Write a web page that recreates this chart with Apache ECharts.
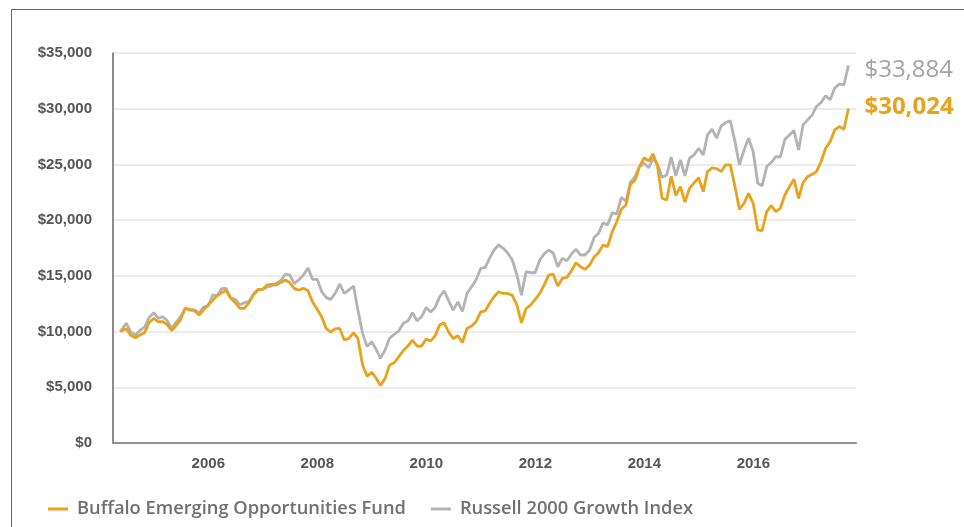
<!DOCTYPE html>
<html>
<head>
<meta charset="utf-8">
<script src="https://cdn.jsdelivr.net/npm/echarts@6/dist/echarts.min.js"></script>
<style>
  html, body { margin: 0; padding: 0; background: #fff; }
  #wrap { position: relative; width: 964px; height: 527px; overflow: hidden; }
  #frame { position: absolute; left: 11px; top: 9px; width: 2000px; height: 2000px;
           border-left: 1.5px solid #666; border-top: 1.5px solid #666; }
  #main { position: absolute; left: 0; top: 0; width: 964px; height: 527px; }
</style>
</head>
<body>
<div id="wrap">
  <div id="frame"></div>
  <div id="main"></div>
</div>
<script>
// 序列名称
const fundName = 'Buffalo Emerging Opportunities Fund';
const indexName = 'Russell 2000 Growth Index';

// 成立日 2004-05-21，之后每个月末一个点，到 2017-09-30
const inception = [2004, 5, 21];
const monthCount = 160;

// 基金 $10,000 增长（从图上读的）
const fundValues = [
  10000, 10250, 9650, 9450, 9700, 9900, 10800, 11180, 10880, 10900, 10650, 10100,
  10550, 11100, 12100, 11930, 11870, 11480, 11950, 12400, 12800, 13200, 13500, 13670,
  13000, 12600, 12080, 12080, 12600, 13300, 13730, 13790, 14200, 14230, 14180, 14400,
  14630, 14400, 13850, 13730, 13880, 13670, 12650, 12000, 11300, 10300, 9950, 10250,
  10280, 9250, 9380, 9890, 9380, 7000, 6000, 6350, 5800, 5150, 5800, 6990,
  7200, 7740, 8300, 8700, 9230, 8700, 8700, 9320, 9170, 9600, 10580, 10790,
  9950, 9380, 9620, 9020, 10280, 10490, 10880, 11770, 11860, 12520, 13120, 13570,
  13420, 13420, 13250, 12370, 10790, 12070, 12370, 12880, 13420, 14170, 15070, 15160,
  14080, 14770, 14860, 15460, 16180, 15820, 15580, 15970, 16720, 17080, 17770, 17620,
  18960, 19860, 20970, 21360, 23200, 23580, 24800, 25600, 25300, 25950, 24800, 21960,
  21810, 23940, 22220, 23010, 21620, 22860, 23340, 23800, 22560, 24360, 24700, 24620,
  24360, 24960, 24960, 23010, 20970, 21510, 22410, 21510, 19110, 19050, 20760, 21300,
  20760, 21060, 22260, 23010, 23670, 21960, 23370, 23910, 24120, 24360, 25260, 26450,
  27050, 28100, 28400, 28160, 30024
];

// 指数 $10,000 增长
const indexValues = [
  10000, 10750, 9950, 9700, 10100, 10400, 11250, 11690, 11180, 11330, 11000, 10300,
  10850, 11350, 12080, 12000, 11950, 11650, 12200, 12290, 13300, 13190, 13850, 13880,
  13000, 12900, 12400, 12590, 12680, 13400, 13790, 13790, 14000, 14080, 14330, 14550,
  15150, 15080, 14300, 14650, 15080, 15700, 14690, 14690, 13580, 13070, 12890, 13430,
  14270, 13430, 13730, 14090, 11900, 9850, 8650, 9080, 8390, 7600, 8350, 9400,
  9750, 10050, 10750, 10950, 11690, 10970, 11330, 12150, 11750, 12150, 13100, 13660,
  12750, 11920, 12670, 11800, 13420, 14020, 14620, 15670, 15760, 16570, 17320, 17770,
  17470, 17050, 16420, 15070, 13270, 15370, 15280, 15280, 16420, 16960, 17320, 17050,
  15820, 16570, 16360, 16960, 17380, 16870, 16870, 17320, 18460, 18810, 19770, 19560,
  20670, 20550, 22050, 21700, 23400, 23910, 24810, 25110, 24700, 25560, 25000, 23850,
  24060, 25650, 23970, 25400, 23970, 25560, 25860, 26450, 25860, 27650, 28160, 27350,
  28460, 28760, 28910, 27050, 24960, 26300, 27350, 26150, 23310, 23070, 24810, 25170,
  25700, 25650, 27260, 27650, 28040, 26300, 28550, 29000, 29450, 30200, 30560, 31160,
  30800, 31850, 32210, 32150, 33884
];

// x 轴刻度年份
const yearTicks = [2006, 2008, 2010, 2012, 2014, 2016];

const orange = '#E8A21C';
const grey = '#B3B3B3';

// 日期转成小数年份
function yearFrac(d) {
  const y = d.getFullYear();
  const start = new Date(y, 0, 1).getTime();
  const end = new Date(y + 1, 0, 1).getTime();
  return y + (d.getTime() - start) / (end - start);
}

const xYears = [yearFrac(new Date(inception[0], inception[1] - 1, inception[2]))];
for (let i = 1; i <= monthCount; i++) {
  xYears.push(yearFrac(new Date(2004, 5 + i, 0)));
}

function money(v) {
  return '$' + Number(v).toLocaleString('en-US');
}

const chart = echarts.init(document.getElementById('main'), null, { renderer: 'canvas' });

const option = {
  animation: false,
  grid: { left: 113, right: 108, top: 53, bottom: 84, containLabel: false },
  legend: {
    left: 43,
    top: 495,
    icon: 'rect',
    itemWidth: 20,
    itemHeight: 3,
    itemGap: 25,
    data: [fundName, indexName],
    textStyle: {
      fontFamily: 'Open Sans',
      fontSize: 18.3,
      fontWeight: 600,
      color: '#707070',
      padding: [0, 0, 0, 4]
    }
  },
  xAxis: {
    type: 'value',
    min: 2004.2514,
    max: 2017.884,
    axisLine: { show: true, lineStyle: { color: '#8C919A', width: 2 } },
    axisTick: { show: false },
    splitLine: { show: false },
    axisLabel: {
      customValues: yearTicks,
      formatter: v => String(Math.round(v)),
      margin: 13,
      fontFamily: 'Liberation Sans',
      fontSize: 15,
      fontWeight: 'bold',
      color: '#555'
    }
  },
  yAxis: {
    type: 'value',
    min: 0,
    max: 35000,
    interval: 5000,
    axisLine: { show: true, lineStyle: { color: '#666', width: 1.5 } },
    axisTick: { show: false },
    splitLine: { lineStyle: { color: '#E6E6E6', width: 1.5 } },
    axisLabel: {
      formatter: money,
      margin: 21,
      fontFamily: 'Liberation Sans',
      fontSize: 15,
      fontWeight: 'bold',
      color: '#555'
    }
  },
  series: [
    {
      name: indexName,
      type: 'line',
      symbol: 'none',
      color: grey,
      lineStyle: { color: grey, width: 2.8 },
      data: xYears.map((x, i) => [x, indexValues[i]]),
      endLabel: {
        show: true,
        distance: 16,
        offset: [0, 5],
        formatter: p => money(p.value[1]),
        fontFamily: 'Open Sans',
        fontSize: 24,
        color: '#A3A3A3'
      },
      z: 2
    },
    {
      name: fundName,
      type: 'line',
      symbol: 'none',
      color: orange,
      lineStyle: { color: orange, width: 2.8 },
      data: xYears.map((x, i) => [x, fundValues[i]]),
      endLabel: {
        show: true,
        distance: 16,
        offset: [0, -1],
        formatter: p => money(p.value[1]),
        fontFamily: 'Open Sans',
        fontSize: 24,
        fontWeight: 'bold',
        color: orange
      },
      z: 3
    }
  ]
};

chart.setOption(option);
</script>
</body>
</html>
